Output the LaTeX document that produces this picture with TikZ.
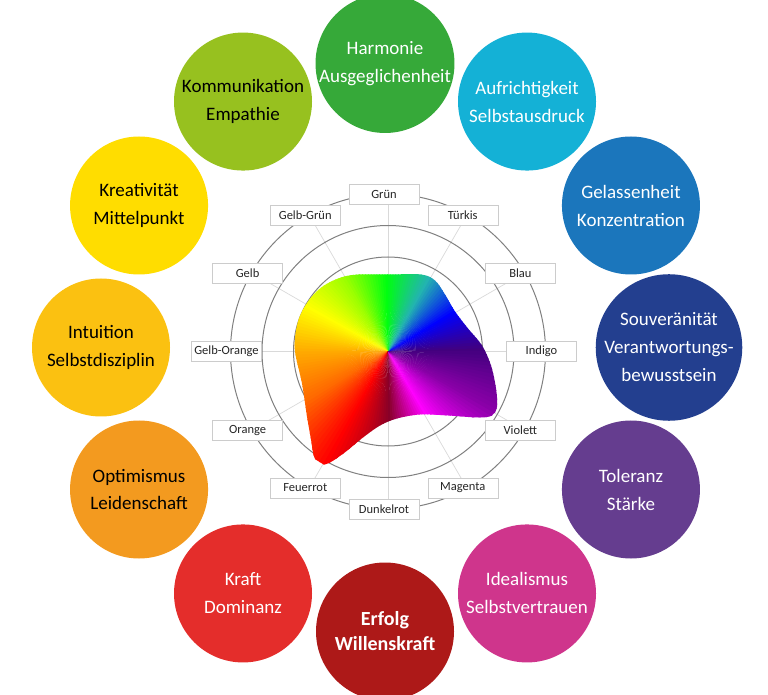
\documentclass[tikz,border=0pt]{standalone}
\usepackage{fontspec}
\setmainfont{Carlito}
\definecolor{harmonie}{HTML}{36A939}
\definecolor{aufrichtig}{HTML}{14B1D6}
\definecolor{gelassen}{HTML}{1B76BC}
\definecolor{souveraen}{HTML}{233F8F}
\definecolor{toleranz}{HTML}{653D8F}
\definecolor{ideal}{HTML}{CF358C}
\definecolor{erfolg}{HTML}{AD1918}
\definecolor{kraft}{HTML}{E42D2B}
\definecolor{optimismus}{HTML}{F39A1F}
\definecolor{intuition}{HTML}{FBC111}
\definecolor{kreativ}{HTML}{FFDD00}
\definecolor{kommunikation}{HTML}{97C11F}
\definecolor{hueIndigo}{HTML}{42007E}
\definecolor{hueBlau}{HTML}{0000FF}
\definecolor{hueTuerkis}{HTML}{22B4B0}
\definecolor{hueGruen}{HTML}{00FF10}
\definecolor{hueGelbGruen}{HTML}{9CFF00}
\definecolor{hueGelb}{HTML}{FFFF00}
\definecolor{hueGelbOrange}{HTML}{FFA800}
\definecolor{hueOrange}{HTML}{FF6A00}
\definecolor{hueFeuerrot}{HTML}{FF0000}
\definecolor{hueDunkelrot}{HTML}{880028}
\definecolor{hueMagenta}{HTML}{FF00FF}
\definecolor{hueViolett}{HTML}{8A00A8}
\tikzset{
    font = \fontsize{12.5}{14}\selectfont,
    every node/.style = {
        inner sep = 0pt,
        outer sep = 0pt
    },
    bubble/.style = {
        circle,
        minimum size = 138pt,
        align = center,
        text = white,
        font = \fontsize{19}{28}\selectfont
    },
    axis label/.style = {
        draw = black!20,
        fill = white,
        minimum width = 70pt,
        minimum height = 20pt,
        text = black!85
    },
    ring/.style = {
        draw = black!50,
        line width = 1pt
    },
    spoke/.style = {
        draw = black!15,
        line width = 0.7pt
    }
}
\begin{document}
\begin{tikzpicture}[x=1pt, y=1pt]
    \useasboundingbox (0,0) rectangle (768,694);
    \coordinate (chart) at (388,342.5);
    \coordinate (wheel) at (385,346.5);
    \foreach \ang/\nm in {90/gruen, 60/tuerkis, 30/blau, 0/indigo, -30/violett, -60/magenta,
            -90/dunkelrot, -120/feuerrot, -150/orange, 180/gelborange, 150/gelb, 120/gelbgruen}{
        \coordinate (ax-\nm) at ([shift={(\ang:157.5)}]chart);
        \draw[spoke] (chart) -- (ax-\nm);
    }
    \foreach \r in {31.5,63,94.5,126,157.5}
        \draw[ring] (chart) circle[radius=\r];
    \begin{scope}[shift={(chart)}]
        \clip plot[smooth cycle, tension=0.55] coordinates {
            (0,77) (33,77) (47,71) (57,57) (67,40) (80,23) (94,6) (103,-14)
            (108,-37) (109,-55) (104,-64) (90,-66) (60,-64) (32,-63) (9,-67)
            (-8,-74) (-25,-86) (-42,-100) (-58,-111) (-68,-113) (-74,-105)
            (-77,-88) (-81,-65) (-86,-32) (-93,0) (-92,21) (-87,38) (-77,54)
            (-64,66) (-47,74) (-30,77)};
        \foreach \ca/\cb [count=\k from 0] in {hueIndigo/hueBlau, hueBlau/hueTuerkis,
                hueTuerkis/hueGruen, hueGruen/hueGelbGruen, hueGelbGruen/hueGelb,
                hueGelb/hueGelbOrange, hueGelbOrange/hueOrange, hueOrange/hueFeuerrot,
                hueFeuerrot/hueDunkelrot, hueDunkelrot/hueMagenta, hueMagenta/hueViolett,
                hueViolett/hueIndigo}{
            \foreach \j in {0,...,14}{
                \pgfmathsetmacro\a{30*\k+2*\j}
                \pgfmathsetmacro\b{\a+2.6}
                \pgfmathsetmacro\p{100-\j*100/15}
                \colorlet{wedge}{\ca!\p!\cb}
                \fill[wedge] (0,0) -- (\a:130) arc[start angle=\a, end angle=\b, radius=130] -- cycle;
            }
        }
    \end{scope}
    \node[axis label] (gruen) at ([xshift=-4pt]ax-gruen) {Grün};
    \node[axis label] (tuerkis) at ([xshift=-4pt]ax-tuerkis) {Türkis};
    \node[axis label] (blau) at ([xshift=-4pt]ax-blau) {Blau};
    \node[axis label] (indigo) at ([xshift=-4pt]ax-indigo) {Indigo};
    \node[axis label] (violett) at ([xshift=-4pt]ax-violett) {Violett};
    \node[axis label] (magenta) at ([xshift=-4pt]ax-magenta) {Magenta};
    \node[axis label] (dunkelrot) at ([xshift=-4pt]ax-dunkelrot) {Dunkelrot};
    \node[axis label] (feuerrot) at ([xshift=-4pt]ax-feuerrot) {Feuerrot};
    \node[axis label] (orange) at ([xshift=-4pt]ax-orange) {Orange};
    \node[axis label] (gelborange) at ([xshift=-4pt]ax-gelborange) {Gelb-Orange};
    \node[axis label] (gelb) at ([xshift=-4pt]ax-gelb) {Gelb};
    \node[axis label] (gelbgruen) at ([xshift=-4pt]ax-gelbgruen) {Gelb-Grün};
    \node[bubble, fill=harmonie] (harmonie) at ([shift={(90:284)}]wheel) {Harmonie\\Ausgeglichenheit};
    \node[bubble, fill=aufrichtig] (aufrichtig) at ([shift={(60:284)}]wheel) {Aufrichtigkeit\\Selbstausdruck};
    \node[bubble, fill=gelassen] (gelassen) at ([shift={(30:284)}]wheel) {Gelassenheit\\Konzentration};
    \node[bubble, fill=souveraen] (souveraen) at ([shift={(0:284)}]wheel) {Souveränität\\Verantwortungs-\\bewusstsein};
    \node[bubble, fill=toleranz] (toleranz) at ([shift={(-30:284)}]wheel) {Toleranz\\Stärke};
    \node[bubble, fill=ideal] (ideal) at ([shift={(-60:284)}]wheel) {Idealismus\\Selbstvertrauen};
    \node[bubble, fill=erfolg, font=\bfseries\fontsize{20}{25}\selectfont] (erfolg)
        at ([shift={(-90:284)}]wheel) {Erfolg\\Willenskraft};
    \node[bubble, fill=kraft] (kraft) at ([shift={(-120:284)}]wheel) {Kraft\\Dominanz};
    \node[bubble, fill=optimismus, text=black] (optimismus) at ([shift={(-150:284)}]wheel) {Optimismus\\Leidenschaft};
    \node[bubble, fill=intuition, text=black] (intuition) at ([shift={(180:284)}]wheel) {Intuition\\Selbstdisziplin};
    \node[bubble, fill=kreativ, text=black] (kreativ) at ([shift={(150:284)}]wheel) {Kreativität\\Mittelpunkt};
    \node[bubble, fill=kommunikation, text=black] (kommunikation) at ([shift={(120:284)}]wheel) {Kommunikation\\Empathie};
\end{tikzpicture}
\end{document}
